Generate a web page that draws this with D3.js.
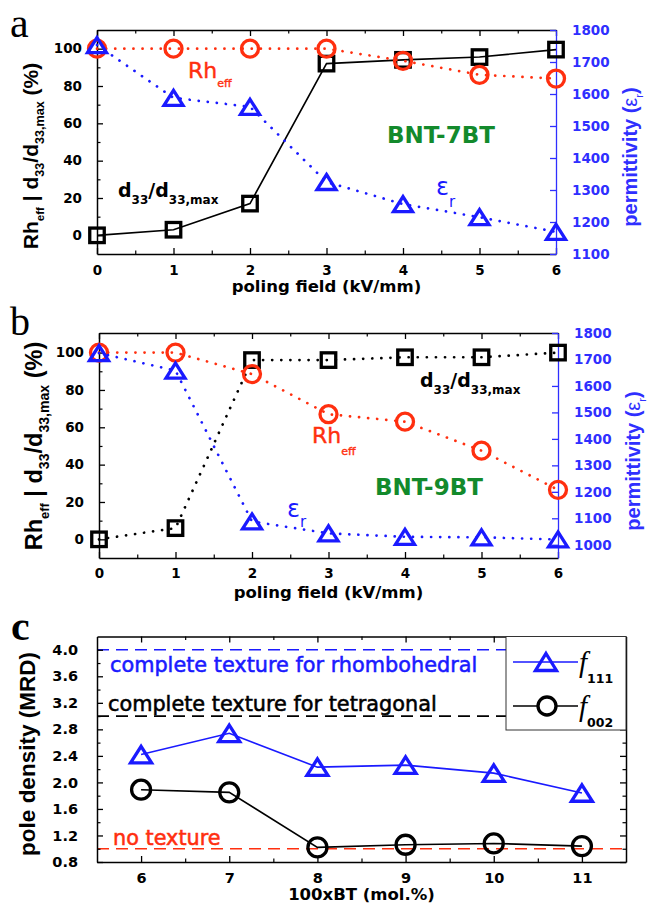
<!DOCTYPE html>
<html><head><meta charset="utf-8">
<script src="https://cdn.jsdelivr.net/npm/d3@7/dist/d3.min.js"></script>
<style>html,body{margin:0;padding:0;background:#fff}svg{display:block}</style>
</head><body>
<svg id="chart" width="647" height="905"></svg>
<script>
// ---------------- data ----------------
const fieldKV = [0, 1, 2, 3, 4, 5, 6];
const fieldTicks = [0, 1, 2, 3, 4, 5, 6];
const fieldMinor = [0.5, 1.5, 2.5, 3.5, 4.5, 5.5];
const pctTicks = [0, 20, 40, 60, 80, 100];
const pctMinor = [10, 30, 50, 70, 90];
const permTicksA = [1100, 1200, 1300, 1400, 1500, 1600, 1700, 1800];
const permTicksB = [1000, 1100, 1200, 1300, 1400, 1500, 1600, 1700, 1800];

// panel a : BNT-7BT
const a_d33 = [0, 3, 17, 92, 94, 95.5, 99.5];
const a_rh  = [100, 100, 100, 100, 93.5, 86, 84];
const a_er  = [1753, 1588, 1560, 1325, 1256, 1215, 1169];
// panel b : BNT-9BT
const b_d33 = [0, 6, 96, 96, 97.5, 97.5, 100];
const b_rh  = [100, 100, 88.5, 67, 63, 47.5, 26.5];
const b_er  = [1724, 1658, 1088, 1043, 1030, 1028, 1020];
// panel c
const btContent = [6, 7, 8, 9, 10, 11];
const btMinor = [6.5, 7.5, 8.5, 9.5, 10.5];
const mrdTicks = [0.8, 1.2, 1.6, 2.0, 2.4, 2.8, 3.2, 3.6, 4.0];
const mrdMinor = [1.0, 1.4, 1.8, 2.2, 2.6, 3.0, 3.4, 3.8];
const f111 = [2.42, 2.74, 2.23, 2.26, 2.14, 1.84];
const f002 = [1.89, 1.85, 1.02, 1.06, 1.08, 1.04];
const refLevels = [4.0, 3.0, 1.0];
const refLabels = ["complete texture for rhombohedral", "complete texture for tetragonal", "no texture"];

// ---------------- style ----------------
const RED = "#ff2f0f", BLUE = "#1a1aff", TBLUE = "#2f2fff", GREEN = "#138a2c";
const SANS = "'DejaVu Sans', sans-serif";
const ARIAL = "'Liberation Sans', Arial, sans-serif";
const SERIF = "'Liberation Serif', 'Times New Roman', serif";
const svg = d3.select("#chart");

function styleAxis(g, color, size, lw) {
  g.attr("font-family", null).attr("font-size", null);
  g.select(".domain").attr("stroke", color).attr("stroke-width", lw || 1.5);
  g.selectAll(".tick line").attr("stroke", color).attr("stroke-width", 1.3);
  g.selectAll(".tick text").attr("fill", color).attr("font-family", SANS)
    .attr("font-weight", "bold").attr("font-size", size);
}
function minor(g) { g.select(".domain").remove(); g.selectAll(".tick line").attr("stroke-width", 1.2); }

function frame(c) {
  const {x, y, yR, xMajor, xMinor, yMajor, yMinor, yRMajor, yRColor, xPad, yPad, yRPad, yFmt, xFmt, fs} = c;
  const [x0, x1] = x.range(); const [yb, yt] = y.range();
  svg.append("g").attr("transform", `translate(0,${yb})`)
    .call(d3.axisBottom(x).tickValues(xMinor).tickSizeInner(-3.5).tickSizeOuter(0).tickFormat(""))
    .call(g => { styleAxis(g, "#000", fs); minor(g); });
  svg.append("g").attr("transform", `translate(0,${yb})`)
    .call(d3.axisBottom(x).tickValues(xMajor).tickSizeInner(-6).tickSizeOuter(0).tickPadding(xPad).tickFormat(xFmt))
    .call(g => styleAxis(g, "#000", fs));
  svg.append("g").attr("transform", `translate(0,${yt})`)
    .call(d3.axisTop(x).tickValues(xMinor).tickSizeInner(-3.5).tickSizeOuter(0).tickFormat(""))
    .call(g => { styleAxis(g, "#000", fs); minor(g); });
  svg.append("g").attr("transform", `translate(0,${yt})`)
    .call(d3.axisTop(x).tickValues(xMajor).tickSizeInner(-6).tickSizeOuter(0).tickFormat(""))
    .call(g => styleAxis(g, "#000", fs));
  svg.append("g").attr("transform", `translate(${x0},0)`)
    .call(d3.axisLeft(y).tickValues(yMinor).tickSizeInner(-3.5).tickSizeOuter(0).tickFormat(""))
    .call(g => { styleAxis(g, "#000", fs); minor(g); });
  svg.append("g").attr("transform", `translate(${x0},0)`)
    .call(d3.axisLeft(y).tickValues(yMajor).tickSizeInner(-6).tickSizeOuter(0).tickPadding(yPad).tickFormat(yFmt))
    .call(g => styleAxis(g, "#000", fs));
  if (yR) {
    svg.append("g").attr("transform", `translate(${x1},0)`)
      .call(d3.axisRight(yR).tickValues(yRMajor).tickSizeInner(-6).tickSizeOuter(0).tickPadding(yRPad).tickFormat(d3.format("d")))
      .call(g => styleAxis(g, yRColor, fs, 1.3));
  } else {
    svg.append("g").attr("transform", `translate(${x1},0)`)
      .call(d3.axisRight(y).tickValues(yMinor).tickSizeInner(-3.5).tickSizeOuter(0).tickFormat(""))
      .call(g => { styleAxis(g, "#000", fs); minor(g); });
    svg.append("g").attr("transform", `translate(${x1},0)`)
      .call(d3.axisRight(y).tickValues(yMajor).tickSizeInner(-6).tickSizeOuter(0).tickFormat(""))
      .call(g => styleAxis(g, "#000", fs));
  }
}

function rich(parent, x, y, parts, base) {
  const t = parent.append("text").attr("x", x).attr("y", y);
  Object.entries(base).forEach(([k, v]) => t.attr(k, v));
  let cur = 0;
  parts.forEach(p => {
    const s = t.append("tspan").text(p.t);
    const off = p.off || 0;
    s.attr("dy", off - cur); cur = off;
    ["font-size", "font-weight", "font-family", "font-style", "fill"].forEach(k => { if (p[k]) s.attr(k, p[k]); });
  });
  return t;
}

function triPath(w, h) { return `M0,${-h / 2}L${w / 2},${h / 2}L${-w / 2},${h / 2}Z`; }

function series(xs, ys, xS, yS, o) {
  const pts = d3.zip(xs, ys);
  const line = d3.line().x(d => xS(d[0])).y(d => yS(d[1]));
  const l = svg.append("path").datum(pts).attr("d", line).attr("fill", "none")
    .attr("stroke", o.color).attr("stroke-width", o.dotted ? 2.7 : 1.6);
  if (o.dotted) l.attr("stroke-dasharray", "0.1,9").attr("stroke-linecap", "round");
  const g = svg.append("g").attr("fill", "none").attr("stroke", o.color).attr("stroke-width", o.sw || 3.3);
  pts.forEach(([a, b]) => {
    const cx = xS(a), cy = yS(b);
    if (o.shape === "square") g.append("rect").attr("x", cx - o.s / 2).attr("y", cy - o.s / 2).attr("width", o.s).attr("height", o.s);
    else if (o.shape === "circle") g.append("circle").attr("cx", cx).attr("cy", cy).attr("r", o.s);
    else g.append("path").attr("d", triPath(o.w, o.h)).attr("transform", `translate(${cx},${cy})`);
  });
}

// ================= panel a =================
const xA = d3.scaleLinear([0, 6], [97, 556]);
const yA = d3.scaleLinear([-10, 110], [254, 30]);
const yAR = d3.scaleLinear([1100, 1800], [254, 30]);
frame({x: xA, y: yA, yR: yAR, xMajor: fieldTicks, xMinor: fieldMinor, yMajor: pctTicks, yMinor: pctMinor,
  yRMajor: permTicksA, yRColor: TBLUE, xPad: 11, yPad: 15, yRPad: 16, yFmt: d3.format("d"), xFmt: d3.format("d"), fs: 13.5});
series(fieldKV, a_d33, xA, yA, {color: "#000", shape: "square", s: 14.5});
series(fieldKV, a_rh, xA, yA, {color: RED, shape: "circle", s: 8.5, dotted: true});
series(fieldKV, a_er, xA, yAR, {color: BLUE, shape: "tri", w: 19, h: 15, dotted: true});

// ================= panel b =================
const xB = d3.scaleLinear([0, 6], [99, 558]);
const yB = d3.scaleLinear([-10, 110.5], [558, 333]);
const yBR = d3.scaleLinear([950, 1800], [558, 333]);
frame({x: xB, y: yB, yR: yBR, xMajor: fieldTicks, xMinor: fieldMinor, yMajor: pctTicks, yMinor: pctMinor,
  yRMajor: permTicksB, yRColor: TBLUE, xPad: 10, yPad: 15, yRPad: 16, yFmt: d3.format("d"), xFmt: d3.format("d"), fs: 13.5});
series(fieldKV, b_d33, xB, yB, {color: "#000", shape: "square", s: 14.5, dotted: true});
series(fieldKV, b_rh, xB, yB, {color: RED, shape: "circle", s: 8.5, dotted: true});
series(fieldKV, b_er, xB, yBR, {color: BLUE, shape: "tri", w: 19, h: 15, dotted: true});

// ================= panel c =================
const xC = d3.scaleLinear([5.5, 11.5], [97, 626]);
const yC = d3.scaleLinear([0.8, 4.2], [862, 636.5]);
const refColors = [BLUE, "#000", RED];
refLevels.forEach((v, i) => {
  svg.append("line").attr("x1", xC(5.5)).attr("x2", xC(11.5)).attr("y1", yC(v)).attr("y2", yC(v))
    .attr("stroke", refColors[i]).attr("stroke-width", 1.6).attr("stroke-dasharray", "12,7");
});
frame({x: xC, y: yC, xMajor: btContent, xMinor: btMinor, yMajor: mrdTicks, yMinor: mrdMinor,
  xPad: 11, yPad: 19, yFmt: d3.format(".1f"), xFmt: d3.format("d"), fs: 14.5});
series(btContent, f111, xC, yC, {color: BLUE, shape: "tri", w: 21, h: 16.5});
series(btContent, f002, xC, yC, {color: "#000", shape: "circle", s: 9.5});
const refPos = [[110, 672], [108, 711], [113, 845]];
refLabels.forEach((t, i) => {
  svg.append("text").attr("x", refPos[i][0]).attr("y", refPos[i][1]).text(t)
    .attr("font-family", SANS).attr("font-size", 20.8).attr("fill", refColors[i])
    .attr("stroke", refColors[i]).attr("stroke-width", 0.55);
});
// legend
const lg = svg.append("g");
lg.append("rect").attr("x", 506).attr("y", 636.5).attr("width", 120).attr("height", 93.5)
  .attr("fill", "#fff").attr("stroke", "#333").attr("stroke-width", 1);
lg.append("line").attr("x1", 513).attr("x2", 578).attr("y1", 662).attr("y2", 662).attr("stroke", BLUE).attr("stroke-width", 1.6);
lg.append("path").attr("d", triPath(21, 17)).attr("transform", "translate(546,662)")
  .attr("fill", "none").attr("stroke", BLUE).attr("stroke-width", 3.3);
lg.append("line").attr("x1", 513).attr("x2", 578).attr("y1", 706).attr("y2", 706).attr("stroke", "#000").attr("stroke-width", 1.6);
lg.append("circle").attr("cx", 547).attr("cy", 706).attr("r", 9).attr("fill", "#fff").attr("stroke", "#000").attr("stroke-width", 3.3);
rich(lg, 579, 672, [{t: "f"}, {t: "111", off: 11, "font-size": 12.5, "font-family": SANS, "font-weight": "bold", "font-style": "normal"}],
  {"font-family": SERIF, "font-style": "italic", "font-size": 29, fill: "#000"});
rich(lg, 579, 716, [{t: "f"}, {t: "002", off: 11, "font-size": 12.5, "font-family": SANS, "font-weight": "bold", "font-style": "normal"}],
  {"font-family": SERIF, "font-style": "italic", "font-size": 29, fill: "#000"});

// ================= annotations =================
const bold = {"font-family": SANS, "font-weight": "bold"};
rich(svg, 188, 78, [{t: "Rh"}, {t: "eff", off: 9, "font-size": 11}], {"font-family": SANS, "font-size": 22, fill: RED, stroke: RED, "stroke-width": 0.4});
svg.append("text").attr("x", 387).attr("y", 143).text("BNT-7BT").attr("font-family", SANS).attr("font-weight", "bold").attr("font-size", 23).attr("fill", GREEN);
rich(svg, 118, 197, [{t: "d"}, {t: "33", off: 7, "font-size": 12}, {t: "/d"}, {t: "33,max", off: 7, "font-size": 12}],
  {...bold, "font-size": 19, fill: "#000"});
rich(svg, 436, 195, [{t: "ε"}, {t: "r", off: 12, "font-size": 15}], {"font-family": SANS, "font-size": 24, fill: BLUE});
rich(svg, 420, 387, [{t: "d"}, {t: "33", off: 7, "font-size": 12}, {t: "/d"}, {t: "33,max", off: 7, "font-size": 12}],
  {...bold, "font-size": 19, fill: "#000"});
rich(svg, 312, 443, [{t: "Rh"}, {t: "eff", off: 12, "font-size": 11}], {"font-family": SANS, "font-size": 22, fill: RED, stroke: RED, "stroke-width": 0.4});
svg.append("text").attr("x", 375).attr("y", 495).text("BNT-9BT").attr("font-family", SANS).attr("font-weight", "bold").attr("font-size", 23).attr("fill", GREEN);
rich(svg, 287, 517, [{t: "ε"}, {t: "r", off: 10, "font-size": 15}], {"font-family": SANS, "font-size": 24, fill: BLUE});

// panel letters
svg.append("text").attr("x", 10).attr("y", 37).text("a").attr("font-family", SERIF).attr("font-size", 42);
svg.append("text").attr("x", 10).attr("y", 335).text("b").attr("font-family", SERIF).attr("font-size", 40);
svg.append("text").attr("x", 11).attr("y", 640).text("c").attr("font-family", SERIF).attr("font-weight", "bold").attr("font-size", 42);

// axis titles
function vTitle(x, y, parts, base) {
  const g = svg.append("g").attr("transform", `translate(${x},${y}) rotate(-90)`);
  rich(g, 0, 0, parts, {"text-anchor": "middle", ...base});
}
const ylabParts = (s) => [{t: "Rh"}, {t: "eff", off: s * 0.3, "font-size": s * 0.55}, {t: " | d"}, {t: "33", off: s * 0.3, "font-size": s * 0.6},
  {t: "/d"}, {t: "33,max", off: s * 0.3, "font-size": s * 0.6}, {t: " (%)"}];
vTitle(38, 156, ylabParts(21), {"font-family": ARIAL, "font-weight": "bold", "font-size": 21, fill: "#000"});
vTitle(42, 446, ylabParts(23.5), {"font-family": ARIAL, "font-weight": "bold", "font-size": 23.5, fill: "#000"});
const permParts = [{t: "permittivity ("}, {t: "ε", "font-weight": "normal"}, {t: "r", off: 6, "font-size": 11, "font-weight": "normal"}, {t: ")"}];
vTitle(637, 157, permParts, {"font-family": ARIAL, "font-weight": "bold", "font-size": 20, fill: TBLUE});
vTitle(640, 461, permParts, {"font-family": ARIAL, "font-weight": "bold", "font-size": 20, fill: TBLUE});
vTitle(35, 754, [{t: "pole density (MRD)"}], {"font-family": ARIAL, "font-weight": "bold", "font-size": 22.5, fill: "#000"});

svg.append("text").attr("x", 326.5).attr("y", 292).attr("text-anchor", "middle").text("poling field (kV/mm)")
  .attr("font-family", SANS).attr("font-weight", "bold").attr("font-size", 16.5);
svg.append("text").attr("x", 328.5).attr("y", 598).attr("text-anchor", "middle").text("poling field (kV/mm)")
  .attr("font-family", SANS).attr("font-weight", "bold").attr("font-size", 16.5);
svg.append("text").attr("x", 361.5).attr("y", 900).attr("text-anchor", "middle").text("100xBT (mol.%)")
  .attr("font-family", SANS).attr("font-weight", "bold").attr("font-size", 16.5);
</script>
</body></html>
